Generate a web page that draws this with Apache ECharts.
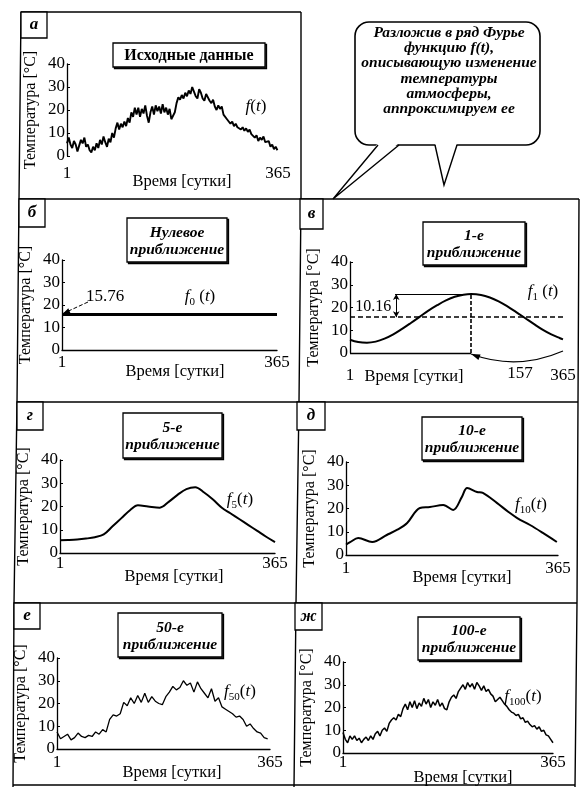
<!DOCTYPE html>
<html><head><meta charset="utf-8">
<script src="https://cdn.jsdelivr.net/npm/echarts@6/dist/echarts.min.js"></script>
<style>html,body{margin:0;padding:0;background:#fff}#c{width:586px;height:787px}</style>
</head><body><div id="c"></div>
<script>
// ---------- DATA ----------
const xTickLabels = [1, 365];
const yMin = 0, yMax = 40, yStep = 10;
const xName = 'Время [сутки]';
const yName = 'Температура [°C]';

// a) original data f(t), every 3 days starting day 1
const origStart = 1, origStep = 3;
const origValues = [5.5,8,5,3.5,6.5,5,2,4.5,7,5.5,
 8,4,5,2.5,1.5,4,2.5,5.5,3.5,7,
 5,8.5,6,4,7.5,6,10,8,12,14.5,
 11.5,14,12.5,15,13,16.5,14.5,19,17,21,
 18,21,17,20.5,18.5,22,17.5,14.5,19,21.5,
 18,22,19.5,21.5,18.5,22.5,19,21,18,20.5,
 16,15.5,19,23,25.5,24.5,26.5,25,27.5,26,
 28.5,27,30,28,26,25,29,27.5,25,24,
 27,27.5,24,23,24.5,21.5,20,22,20.5,21.5,
 18,17.5,16,15,14,15,13,14,12.5,13,
 11.5,12.5,11,12,10.5,11.5,9.5,10,8,9,
 6.5,8,7,8.5,6,5.5,6.5,4,5,3,
 4,2.5];

// б) zero approximation
const f0Days = [1, 365];
const f0Values = [15.76, 15.76];
const f0Label = '15.76';

// в) 1st approximation
const f1Days = [1,15,30,45,60,75,90,105,120,135,150,165,180,195,208,225,240,255,270,285,300,315,330,345,360,365];
const f1Values = [5.8,4.8,4.5,5.0,6.3,8.2,10.6,13.2,15.9,18.6,21.0,23.1,24.7,25.6,25.9,25.5,24.4,22.7,20.5,18.0,15.4,12.8,10.3,8.2,6.5,6.0];
const f1Mean = 15.76, f1Peak = 25.92, f1PeakDay = 208, f1AmpLabel = '10.16', f1SpanLabel = '157';
const f1AmpArrowDay = 80, f1PeakLineStartDay = 78;

// г) 5th approximation
const f5Days = [1,15,30,45,60,75,90,105,120,133,150,170,185,200,215,230,245,260,275,290,305,320,335,350,365];
const f5Values = [5.5,5.6,5.8,6.2,6.8,8,11.5,15,18.5,20.5,20,19.5,22,25,27.5,28.3,26,23,19.5,17,14.5,12,9.5,7,4.7];

// д) 10th approximation
const f10Days = [1,8,22,46,71,90,106,128,145,168,185,200,209,226,236,260,280,295,317,339,363];
const f10Values = [4.5,5.5,7.3,5.6,8.6,11,13.8,20.2,20.6,21.5,19.4,25,28.8,27.1,26.7,22.4,18.5,15.9,12.9,9.5,5.6];

// е) 50th approximation, every 6 days
const f50Start = 1, f50Step = 6;
const f50Values = [7.5,4.5,5.5,6.5,4,5,7,5.5,5,6,
 5.5,7.5,6.5,8.5,7.5,13,15,14.5,15.5,20.5,
 19,22.5,20,23.5,20.5,24.5,20.5,23,21,20,
 19.5,23,25,27.5,26,27,30,28,29,25,
 29.5,26.5,24.5,22.5,26.5,21,22.5,18.5,17.5,16.5,
 15.5,14,14.5,13,10,11,9,7.5,7,5,
 4.5];

// ж) 100th approximation, every 4 days
const f100Start = 1, f100Step = 4;
const f100Values = [9,6,4.5,7.5,6,7.5,5.5,6.5,4.5,6,
 7,5.5,7.5,6,8.5,9.5,7.5,10,11,9.5,
 13,14.5,15.5,14.5,17,16,19.5,21.5,19,22.5,
 20,23,19.5,22,20.5,24,21.5,23.5,20,22.5,
 21,23.5,20.5,22,19.5,19,22.5,24.5,25.5,24,
 27,28.5,30,28,31,29,30.5,28,31,29.5,
 27.5,29.5,27,28,26,25,22.5,23.5,24.5,23,
 21.5,20.5,19,18,17.5,16.5,17,15,15.5,13.5,
 14,12.5,11.5,12,10.5,11.5,9.5,10,8,7.5,
 6,4.5];

const panelLetters = ['а','б','в','г','д','е','ж'];
const panelTitles = [['Исходные данные'],['Нулевое','приближение'],['1-е','приближение'],['5-е','приближение'],['10-е','приближение'],['50-е','приближение'],['100-е','приближение']];
const bubbleText = ['Разложив в ряд Фурье','функцию f(t),','описывающую изменение','температуры','атмосферы,','аппроксимируем ее'];

// ---------- LAYOUT ----------
const serif = 'Liberation Serif';
const G = [
 {l:67,t:64,w:211,h:92},
 {l:62,t:260,w:215,h:90},
 {l:350,t:262,w:213,h:91},
 {l:60,t:460,w:215,h:93},
 {l:346,t:462,w:212,h:93},
 {l:57,t:658,w:213,h:91},
 {l:343,t:662,w:210,h:91}
];
const xMargins = [9,4,14,2,5,5,1];
const showXLine = [false,true,false,true,true,true,true];

function pairs(days, vals){ return vals.map((v,k)=>[days[k], v]); }
function stepPairs(start, step, vals){ return vals.map((v,k)=>[start+step*k, v]); }

const black = '#000';
function lineSeries(i, data, width, smooth){
  return {type:'line', xAxisIndex:i, yAxisIndex:i, data:data, symbol:'none', showSymbol:false,
    smooth: smooth||false, lineStyle:{color:black, width:width}, silent:true, z:3};
}

const series = [
  lineSeries(0, stepPairs(origStart, origStep, origValues), 1.9),
  lineSeries(1, pairs(f0Days, f0Values), 3),
  Object.assign(lineSeries(2, pairs(f1Days, f1Values), 2, 0.4), {
    markLine:{silent:true, symbol:'none', label:{show:false}, animation:false,
      data:[
        [{coord:[xTickLabels[0], f1Mean], lineStyle:{type:[5,3], width:1.6, color:black}}, {coord:[xTickLabels[1], f1Mean]}],
        [{coord:[f1PeakDay, 0], lineStyle:{type:[4,2], width:1.6, color:black}}, {coord:[f1PeakDay, f1Peak]}],
        [{coord:[f1PeakLineStartDay, f1Peak], lineStyle:{type:'solid', width:1, color:black}}, {coord:[f1PeakDay, f1Peak]}],
        [{coord:[xTickLabels[0], 0], lineStyle:{type:'solid', width:1.3, color:black}}, {coord:[f1PeakDay, 0]}],
        [{coord:[f1AmpArrowDay, f1Mean], symbol:'arrow', symbolSize:[5,6], lineStyle:{type:'solid', width:1, color:black}}, {coord:[f1AmpArrowDay, f1Peak], symbol:'arrow', symbolSize:[5,6]}]
      ]}
  }),
  lineSeries(3, pairs(f5Days, f5Values), 2, 0.35),
  lineSeries(4, pairs(f10Days, f10Values), 2, 0.35),
  lineSeries(5, stepPairs(f50Start, f50Step, f50Values), 1.3),
  lineSeries(6, stepPairs(f100Start, f100Step, f100Values), 1.5)
];

const option = {
  animation:false,
  backgroundColor:'#fff',
  grid: G.map(g=>({left:g.l, top:g.t, width:g.w, height:g.h})),
  xAxis: G.map((g,i)=>({gridIndex:i, type:'value', min:xTickLabels[0], max:xTickLabels[1],
    axisLine:{show:showXLine[i], onZero:false, lineStyle:{color:black, width:1.3}},
    axisTick:{show:false}, splitLine:{show:false},
    axisLabel:{customValues:xTickLabels, margin:xMargins[i], fontFamily:serif, fontSize:17, color:black}})),
  yAxis: G.map((g,i)=>({gridIndex:i, type:'value', min:yMin, max:yMax, interval:yStep,
    axisLine:{show:true, onZero:false, lineStyle:{color:black, width:1.3}},
    axisTick:{show:true, inside:true, length:3, lineStyle:{color:black}},
    splitLine:{show:false},
    axisLabel:{margin:2, fontFamily:serif, fontSize:17, color:black},
    name:yName, nameLocation:'middle', nameGap:28,
    nameTextStyle:{fontFamily:serif, fontSize:16, color:black}})),
  series: series
};

const chart = echarts.init(document.getElementById('c'), null, {renderer:'canvas'});
chart.setOption(option);

// ---------- GRAPHICS ----------
const gfx = [];
const frameLines = [
 [[21,12],[301,12]],
 [[21,12],[19,199],[17,402],[14,603],[13,787]],
 [[301,12],[301,199],[299,402],[296,603],[294,787]],
 [[579,199],[578,402],[577,603],[575,787]],
 [[19,199],[579,199]],
 [[17,402],[578,402]],
 [[14,603],[577,603]],
 [[13,785],[575,785]]
];
frameLines.forEach(p=>gfx.push({type:'polyline', shape:{points:p}, style:{stroke:black, lineWidth:1.4, fill:null}, z:10}));

const letterBoxes = [[21,12,26,26],[19,199,26,28],[300,199,23,30],[17,402,26,28],[297,402,28,28],[14,603,26,26],[295,603,27,27]];
letterBoxes.forEach((b,i)=>{
  gfx.push({type:'rect', shape:{x:b[0],y:b[1],width:b[2],height:b[3]}, style:{stroke:black, lineWidth:1.3, fill:'#fff'}, z:10});
  gfx.push({type:'text', x:b[0]+b[2]/2, y:b[1]+b[3]/2, style:{text:panelLetters[i], fontFamily:serif, fontSize:17, fontWeight:'bold', fontStyle:'italic', fill:black, align:'center', verticalAlign:'middle'}, z:11});
});

const titleBoxes = [[113,43,152,24],[127,218,100,44],[423,222,102,43],[123,413,99,45],[422,417,100,43],[118,613,104,44],[418,617,102,43]];
titleBoxes.forEach((b,i)=>{
  gfx.push({type:'rect', shape:{x:b[0]+1.5,y:b[1]+1.5,width:b[2],height:b[3]}, style:{stroke:black, lineWidth:1.3, fill:'#444'}, z:10});
  gfx.push({type:'rect', shape:{x:b[0],y:b[1],width:b[2],height:b[3]}, style:{stroke:black, lineWidth:1.3, fill:'#fff'}, z:10});
  gfx.push({type:'text', x:b[0]+b[2]/2, y:b[1]+b[3]/2+1, style:{text:panelTitles[i].join('\n'), fontFamily:serif, fontSize:i===0?16:15.5, lineHeight:17, fontWeight:'bold', fontStyle:i===0?'normal':'italic', fill:black, align:'center', verticalAlign:'middle'}, z:11});
});

const xNamePos = [[182,182],[175,372],[414,377],[174,577],[462,578],[172,773],[463,778]];
xNamePos.forEach(p=>gfx.push({type:'text', x:p[0], y:p[1], style:{text:xName, fontFamily:serif, fontSize:16.5, fill:black, align:'center', verticalAlign:'middle'}, z:11}));

const rich = {
  i:{fontFamily:serif, fontStyle:'italic', fontSize:17, fill:black, color:black},
  n:{fontFamily:serif, fontSize:17, fill:black, color:black},
  s:{fontFamily:serif, fontSize:11, fill:black, color:black, padding:[10,0,0,0]}
};
const fLabels = [
  [256,107,'{i|f}{n|(}{i|t}{n|)}'],
  [200,297,'{i|f}{s|0}{n| (}{i|t}{n|)}'],
  [543,292,'{i|f}{s|1}{n| (}{i|t}{n|)}'],
  [240,500,'{i|f}{s|5}{n|(}{i|t}{n|)}'],
  [531,505,'{i|f}{s|10}{n|(}{i|t}{n|)}'],
  [240,692,'{i|f}{s|50}{n|(}{i|t}{n|)}'],
  [523,697,'{i|f}{s|100}{n|(}{i|t}{n|)}']
];
fLabels.forEach(f=>gfx.push({type:'text', x:f[0], y:f[1], style:{text:f[2], rich:rich, align:'center', verticalAlign:'middle'}, z:11}));

// б: 15.76 annotation with arrow to the start of f0
const pStart = chart.convertToPixel({gridIndex:1}, [f0Days[0], f0Values[0]]);
gfx.push({type:'text', x:105, y:297, style:{text:f0Label, fontFamily:serif, fontSize:17, fill:black, align:'center', verticalAlign:'middle'}, z:11});
(function(){
  const a=[88,302], b=[pStart[0]+1, pStart[1]-1];
  gfx.push({type:'line', shape:{x1:a[0],y1:a[1],x2:b[0],y2:b[1]}, style:{stroke:black, lineWidth:1, lineDash:[4,2]}, z:11});
  const dx=b[0]-a[0], dy=b[1]-a[1], L=Math.hypot(dx,dy), ux=dx/L, uy=dy/L;
  gfx.push({type:'polygon', shape:{points:[[b[0],b[1]],[b[0]-7*ux-2.5*uy, b[1]-7*uy+2.5*ux],[b[0]-7*ux+2.5*uy, b[1]-7*uy-2.5*ux]]}, style:{fill:black}, z:11});
})();

// в: amplitude label and half-period arc
const pMid = chart.convertToPixel({gridIndex:2}, [f1AmpArrowDay, (f1Mean+f1Peak)/2]);
gfx.push({type:'text', x:pMid[0]-5, y:pMid[1]+1, style:{text:f1AmpLabel, fontFamily:serif, fontSize:16, fill:black, align:'right', verticalAlign:'middle'}, z:11});
const pA = chart.convertToPixel({gridIndex:2}, [f1PeakDay, 0]);
const pB = chart.convertToPixel({gridIndex:2}, [xTickLabels[1], 0]);
(function(){
  const cx=(pA[0]+pB[0])/2, cy=pA[1]+18;
  gfx.push({type:'bezierCurve', shape:{x1:pA[0],y1:pA[1]+1,x2:pB[0],y2:pB[1]-2,cpx1:cx,cpy1:cy}, style:{stroke:black, lineWidth:1.2, fill:null}, z:11});
  const dx=cx-pA[0], dy=cy-pA[1], L=Math.hypot(dx,dy), ux=dx/L, uy=dy/L;
  const t=[pA[0],pA[1]+1];
  gfx.push({type:'polygon', shape:{points:[t,[t[0]+9*ux-3*uy, t[1]+9*uy+3*ux],[t[0]+9*ux+3*uy, t[1]+9*uy-3*ux]]}, style:{fill:black}, z:11});
  gfx.push({type:'text', x:cx+3, y:pA[1]+21, style:{text:f1SpanLabel, fontFamily:serif, fontSize:17, fill:black, align:'center', verticalAlign:'middle'}, z:11});
})();

// speech bubble
gfx.push({type:'rect', shape:{x:355,y:22,width:185,height:123,r:14}, style:{stroke:black, lineWidth:1.6, fill:'#fff'}, z:10});
gfx.push({type:'polygon', shape:{points:[[378,143],[399,143],[333,199]]}, style:{fill:'#fff'}, z:11});
gfx.push({type:'polygon', shape:{points:[[435,143],[457,143],[444,185]]}, style:{fill:'#fff'}, z:11});
gfx.push({type:'polyline', shape:{points:[[378,145],[333,199],[399,145]]}, style:{stroke:black, lineWidth:1.4, fill:null}, z:12});
gfx.push({type:'polyline', shape:{points:[[435,145],[444,185],[457,145]]}, style:{stroke:black, lineWidth:1.4, fill:null}, z:12});
gfx.push({type:'text', x:449, y:71, style:{text:bubbleText.join('\n'), fontFamily:serif, fontSize:15.5, lineHeight:15.2, fontWeight:'bold', fontStyle:'italic', fill:black, align:'center', verticalAlign:'middle'}, z:12});

chart.setOption({graphic: gfx});
</script>
</body></html>
